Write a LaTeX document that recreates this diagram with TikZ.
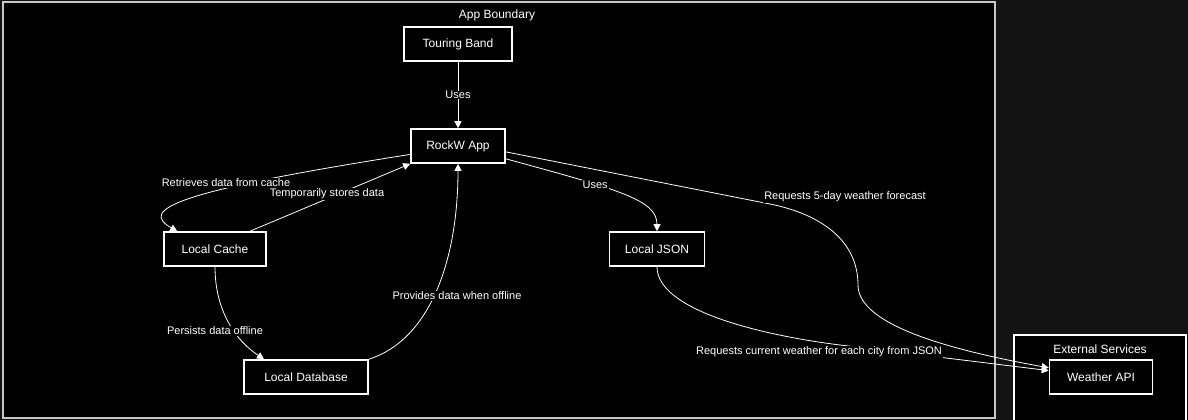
\documentclass[tikz,border=0pt]{standalone}
\usepackage{fontspec}
\setmainfont{Liberation Sans}
\usepackage{tikz}
\usetikzlibrary{arrows.meta}
\definecolor{panel}{HTML}{131313}
\definecolor{rim}{HTML}{C8C8C8}
\tikzstyle{box}=[draw=white, line width=1.6pt, fill=black, text=white, minimum height=34pt, inner sep=2pt, font=\fontsize{12}{14}\selectfont]
\tikzstyle{lbl}=[fill=black, text=white, inner xsep=1pt, inner ysep=0.5pt, font=\fontsize{11}{13}\selectfont]
\tikzstyle{arr}=[draw=white, line width=0.8pt, -{Triangle[length=7pt,width=7pt]}]
\tikzstyle{title}=[text=white, font=\fontsize{12}{14}\selectfont]

\begin{document}
\begin{tikzpicture}[x=1pt,y=-1pt]
\fill[panel] (0,0) rectangle (1188,420);
\useasboundingbox (0,0) rectangle (1188,420);
\draw[fill=black, draw=rim, line width=1.2pt] (3,2) rectangle (995,418);
\node[title] (appb) at (497,15) {App Boundary};
\draw[fill=black, draw=white, line width=1.6pt] (1014,335) rectangle (1186,432);
\node[title] (exts) at (1100,349) {External Services};

\node[box, minimum width=108pt] (band) at (458,44) {Touring Band};
\node[box, minimum width=94pt] (app) at (458,146) {RockW App};
\node[box, minimum width=102pt] (cache) at (215,249) {Local Cache};
\node[box, minimum width=124pt] (db) at (306,377) {Local Database};
\node[box, minimum width=95pt] (json) at (657,249) {Local JSON};
\node[box, minimum width=103pt] (api) at (1101,377) {Weather API};

\draw[arr] (band) -- node[lbl] (l1) {Uses} (app);
\draw[arr] (app.190) .. controls (170,192) and (140,210) .. ([xshift=14pt]cache.north west);
\draw[arr] ([xshift=35pt]cache.north) -- (app.south west);
\node[lbl] (l2) at (226,183) {Retrieves data from cache};
\node[lbl] (l3) at (327,194) {Temporarily stores data};
\draw[arr] (app.-15) .. controls (620,190) and (657,200) .. node[lbl, pos=0.33] (l4) {Uses} (json.north);
\draw[arr] (app.-7) -- (770,204) .. controls (820,214) and (858,240) .. (858,285) .. controls (858,325) and (950,350) .. (api.170);
\node[lbl] (l5) at (845,197) {Requests 5-day weather forecast};
\draw[arr] (cache.south) .. controls (215,310) and (235,340) .. ([xshift=-42pt]db.north);
\node[lbl] (l6) at (215,331) {Persists data offline};
\draw[arr] (db.north east) .. controls (430,340) and (458,260) .. (app.south);
\node[lbl] (l7) at (457,296) {Provides data when offline};
\draw[arr] (json.south) .. controls (657,310) and (760,335) .. (840,345) -- (api.173);
\node[lbl] (l8) at (819,352) {Requests current weather for each city from JSON};
\end{tikzpicture}
\end{document}
